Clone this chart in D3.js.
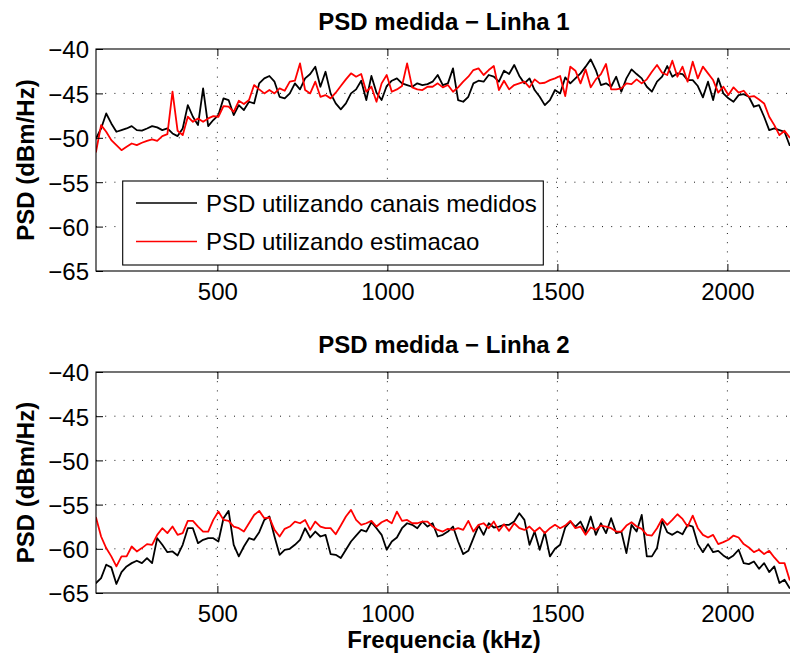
<!DOCTYPE html>
<html>
<head>
<meta charset="utf-8">
<script src="https://cdn.jsdelivr.net/npm/d3@7"></script>
<style>
  body { margin: 0; background: #fff; }
  svg { display: block; }
  text { font-family: "Liberation Sans", Arial, Helvetica, sans-serif; fill: #000; }
</style>
</head>
<body>
<script>
// Frequency sampling of the PSD curves (kHz)
const freqStart = 143;
const freqStep = 15;
const xTicks = [500, 1000, 1500, 2000];
const yTicks = [-40, -45, -50, -55, -60, -65];
const legendLabels = ["PSD utilizando canais medidos", "PSD utilizando estimacao"];
const panelTitles = ["PSD medida \u2212 Linha 1", "PSD medida \u2212 Linha 2"];

// Linha 1 — PSD (dBm/Hz) from measured channels
const linha1Medidos = [
  -50.08,-48.95,-47.26,-48.38,-49.32,-49.14,-48.95,-48.68,-49.14,-49.2,-48.95,-48.68,-48.83,-49.14,-48.95,-49.51,-49.81,-48.95,-46.32,-47.63,-48.57,-44.44,-48.68,-48.0,-47.44,-45.56,-45.75,-47.44,-46.32,-46.88,-45.94,-46.13,-43.87,-43.31,
  -43.04,-43.68,-45.38,-45.56,-45.0,-43.87,-44.55,-43.31,-42.82,-41.99,-44.25,-42.56,-45.0,-46.13,-46.8,-46.13,-45.0,-44.55,-43.57,-45.75,-43.04,-44.92,-45.75,-44.17,-43.57,-43.31,-43.87,-44.06,-44.25,-43.87,-44.06,-43.95,-43.68,-42.93,-44.06,
  -43.87,-42.18,-45.75,-45.94,-45.38,-43.87,-43.57,-43.68,-42.93,-43.12,-43.68,-42.44,-42.82,-41.8,-43.04,-43.87,-43.31,-44.62,-45.38,-46.32,-45.75,-44.62,-45.0,-43.2,-43.87,-43.31,-42.74,-41.99,-41.17,-42.37,-44.06,-43.87,-44.25,-43.12,
  -44.81,-43.31,-42.29,-42.82,-43.31,-44.25,-44.81,-43.68,-43.12,-41.92,-43.12,-42.74,-42.82,-43.5,-43.5,-44.17,-45.45,-43.68,-45.75,-43.31,-45.0,-45.56,-45.94,-45.19,-45.08,-45.38,-46.5,-46.32,-47.63,-49.14,-48.95,-49.14,-49.32,-50.83
];

// Linha 1 — PSD (dBm/Hz) from estimated channels
const linha1Estimacao = [
  -51.58,-48.57,-49.32,-50.26,-50.83,-51.39,-51.02,-50.64,-50.83,-50.56,-50.34,-50.19,-50.34,-49.81,-49.59,-44.81,-49.21,-49.7,-47.63,-48.2,-47.82,-48.2,-47.82,-47.56,-47.63,-46.43,-46.5,-47.07,-45.83,-46.2,-45.75,-44.06,-44.55,-45.0,
  -44.62,-45.0,-44.44,-44.7,-43.68,-43.57,-41.62,-44.62,-45.0,-43.68,-45.38,-45.19,-45.56,-44.92,-44.17,-43.42,-42.74,-43.12,-42.82,-44.81,-44.25,-45.94,-43.87,-42.93,-44.81,-44.55,-44.17,-41.62,-44.32,-44.55,-44.62,-44.25,-44.25,-43.87,-44.32,
  -44.06,-44.81,-44.32,-43.68,-43.12,-42.37,-42.18,-42.93,-42.37,-41.92,-44.62,-43.57,-44.55,-44.06,-43.87,-43.68,-44.32,-43.42,-43.87,-43.8,-43.5,-43.31,-43.04,-45.3,-41.99,-42.44,-43.87,-42.29,-44.32,-43.42,-42.82,-41.69,-44.55,-44.55,
  -44.44,-43.87,-43.95,-43.42,-43.87,-43.42,-42.56,-41.8,-42.67,-42.93,-41.32,-43.12,-41.99,-43.68,-41.43,-43.31,-41.99,-42.74,-43.5,-44.92,-44.25,-45.19,-44.32,-44.92,-44.7,-45.38,-45.3,-45.68,-46.13,-47.63,-48.57,-49.7,-49.21,-49.96
];

// Linha 2 — PSD (dBm/Hz) from measured channels
const linha2Medidos = [
  -63.87,-63.31,-61.8,-62.1,-63.98,-62.63,-61.99,-61.62,-61.35,-61.62,-61.05,-61.62,-58.8,-59.55,-60.38,-60.3,-60.75,-59.55,-57.67,-57.67,-59.36,-58.98,-58.8,-58.8,-59.17,-56.54,-55.71,-59.55,-60.86,-59.74,-58.8,-58.98,-58.12,-56.73,
  -56.35,-58.61,-60.68,-60.11,-60.0,-59.55,-58.98,-57.67,-58.72,-58.05,-58.61,-58.42,-60.6,-60.68,-61.05,-60.11,-59.17,-58.5,-57.86,-58.05,-57.0,-57.67,-58.42,-60.11,-59.17,-58.72,-57.67,-57.11,-57.29,-57.67,-56.92,-57.48,-57.11,-58.61,-58.42,
  -58.05,-57.48,-59.17,-60.6,-60.23,-58.8,-57.37,-58.42,-57.11,-57.59,-57.48,-57.29,-57.29,-56.92,-55.98,-56.73,-59.55,-58.05,-60.11,-58.12,-60.86,-60.0,-59.55,-57.59,-56.92,-57.48,-56.92,-58.12,-56.35,-58.42,-57.11,-58.23,-56.54,-58.23,
  -58.05,-60.49,-57.29,-58.05,-56.17,-60.86,-60.86,-59.92,-56.84,-58.12,-58.42,-58.05,-58.35,-57.29,-57.48,-59.47,-60.38,-59.47,-60.38,-60.23,-60.75,-61.13,-60.75,-60.11,-61.62,-61.73,-61.43,-62.26,-61.62,-62.63,-61.99,-63.87,-63.5,-64.44
];

// Linha 2 — PSD (dBm/Hz) from estimated channels
const linha2Estimacao = [
  -56.47,-58.61,-59.92,-60.86,-61.99,-60.86,-60.86,-59.74,-60.3,-59.92,-59.47,-59.55,-58.42,-57.67,-58.23,-57.48,-58.42,-58.23,-56.84,-56.84,-57.48,-58.05,-58.05,-56.73,-55.79,-56.73,-56.84,-57.48,-57.67,-58.05,-57.11,-56.17,-55.71,-56.54,
  -56.47,-57.86,-58.61,-57.74,-57.48,-56.92,-57.11,-56.73,-57.86,-56.92,-57.48,-57.67,-57.67,-58.35,-57.37,-56.35,-55.6,-56.73,-57.29,-57.11,-56.84,-57.48,-57.0,-56.73,-57.11,-55.79,-56.84,-56.73,-57.11,-57.11,-56.92,-56.92,-57.48,-57.86,-58.05,
  -57.74,-57.86,-57.67,-57.86,-56.84,-58.05,-57.29,-57.11,-57.67,-56.92,-57.97,-57.22,-57.97,-57.11,-57.67,-57.86,-57.48,-58.05,-57.59,-58.23,-57.67,-57.29,-57.67,-57.37,-56.84,-57.67,-57.48,-58.42,-57.59,-57.86,-57.37,-57.48,-57.67,-58.05,
  -58.05,-57.37,-57.0,-57.48,-57.74,-58.42,-58.5,-57.67,-56.62,-57.29,-56.73,-56.09,-56.62,-57.48,-56.24,-57.67,-58.42,-58.72,-58.42,-59.47,-59.25,-58.98,-58.5,-58.72,-59.47,-59.85,-60.38,-60.11,-60.6,-60.23,-60.98,-61.62,-61.62,-63.5
];

const W = 790, H = 655;
const plotLeft = 96, plotRight = 792;
const fontSize = 24;

const svg = d3.select("body").append("svg")
  .attr("width", W).attr("height", H)
  .attr("viewBox", `0 0 ${W} ${H}`);

const x = d3.scaleLinear().domain([143, 2190]).range([plotLeft, plotRight]);

const panels = [
  { top: 49, bottom: 271, title: panelTitles[0], medidos: linha1Medidos, estimacao: linha1Estimacao, legend: true, xlabel: false },
  { top: 372, bottom: 593, title: panelTitles[1], medidos: linha2Medidos, estimacao: linha2Estimacao, legend: false, xlabel: true }
];

panels.forEach((p, k) => {
  const y = d3.scaleLinear().domain([-65, -40]).range([p.bottom, p.top]);
  const g = svg.append("g");

  const clipId = "clip" + k;
  svg.append("clipPath").attr("id", clipId)
    .append("rect")
    .attr("x", plotLeft).attr("y", p.top)
    .attr("width", plotRight - plotLeft).attr("height", p.bottom - p.top);

  // dotted grid
  const grid = g.append("g").attr("stroke", "#000").attr("stroke-width", 0.9)
    .attr("stroke-dasharray", "1,8.2");
  grid.selectAll("line.gx").data(xTicks).join("line")
    .attr("x1", d => x(d)).attr("x2", d => x(d))
    .attr("y1", p.top).attr("y2", p.bottom);
  grid.selectAll("line.gy").data(yTicks.filter(d => d !== -40 && d !== -65)).join("line")
    .attr("x1", plotLeft).attr("x2", plotRight)
    .attr("y1", d => y(d)).attr("y2", d => y(d));

  // PSD curves
  const line = d3.line()
    .x((d, i) => x(freqStart + freqStep * i))
    .y(d => y(d));
  const curves = g.append("g").attr("clip-path", `url(#${clipId})`)
    .attr("fill", "none").attr("stroke-width", 1.8)
    .attr("stroke-linejoin", "round").attr("stroke-linecap", "round");
  curves.append("path").datum(p.medidos).attr("stroke", "#000").attr("d", line);
  curves.append("path").datum(p.estimacao).attr("stroke", "#ff0000").attr("d", line);

  // axes with inward ticks
  const xAxis = d3.axisBottom(x).tickValues(xTicks).tickFormat(d3.format("d"))
    .tickSizeInner(-7).tickSizeOuter(0).tickPadding(12);
  const gx = g.append("g").attr("transform", `translate(0,${p.bottom})`).call(xAxis);
  const xTop = d3.axisTop(x).tickValues(xTicks).tickFormat("")
    .tickSizeInner(-7).tickSizeOuter(0);
  const gxt = g.append("g").attr("transform", `translate(0,${p.top})`).call(xTop);
  const yAxis = d3.axisLeft(y).tickValues(yTicks)
    .tickSizeInner(-7).tickSizeOuter(0).tickPadding(7);
  const gy = g.append("g").attr("transform", `translate(${plotLeft},0)`).call(yAxis);

  [gx, gxt, gy].forEach(a => {
    a.select(".domain").remove();
    a.selectAll("line").attr("stroke", "#000").attr("stroke-width", 1);
    a.selectAll("text").attr("font-size", fontSize)
      .attr("font-family", '"Liberation Sans", Arial, sans-serif').attr("fill", "#000");
  });
  gy.selectAll("text").attr("dy", "0.37em");

  // axes box
  g.append("rect")
    .attr("x", plotLeft).attr("y", p.top)
    .attr("width", plotRight - plotLeft).attr("height", p.bottom - p.top)
    .attr("fill", "none").attr("stroke", "#000").attr("stroke-width", 1.1);

  // title
  g.append("text")
    .attr("x", (plotLeft + plotRight) / 2).attr("y", p.top - 19)
    .attr("text-anchor", "middle").attr("font-size", fontSize).attr("font-weight", "bold")
    .text(p.title);

  // y label
  g.append("text")
    .attr("transform", `translate(34,${(p.top + p.bottom) / 2}) rotate(-90)`)
    .attr("text-anchor", "middle").attr("font-size", fontSize).attr("font-weight", "bold")
    .text("PSD (dBm/Hz)");

  if (p.xlabel) {
    g.append("text")
      .attr("x", (plotLeft + plotRight) / 2).attr("y", 648)
      .attr("text-anchor", "middle").attr("font-size", fontSize).attr("font-weight", "bold")
      .text("Frequencia (kHz)");
  }

  if (p.legend) {
    const lg = g.append("g");
    lg.append("rect")
      .attr("x", 122.7).attr("y", 181).attr("width", 420.6).attr("height", 84)
      .attr("fill", "#fff").attr("stroke", "#000").attr("stroke-width", 1.1);
    const colors = ["#000", "#ff0000"];
    const rows = [203, 241.5];
    legendLabels.forEach((lab, j) => {
      lg.append("line")
        .attr("x1", 136).attr("x2", 197)
        .attr("y1", rows[j]).attr("y2", rows[j])
        .attr("stroke", colors[j]).attr("stroke-width", 1.6);
      lg.append("text")
        .attr("x", 206).attr("y", rows[j] + 8.6)
        .attr("font-size", fontSize)
        .text(lab);
    });
  }
});
</script>
</body>
</html>
